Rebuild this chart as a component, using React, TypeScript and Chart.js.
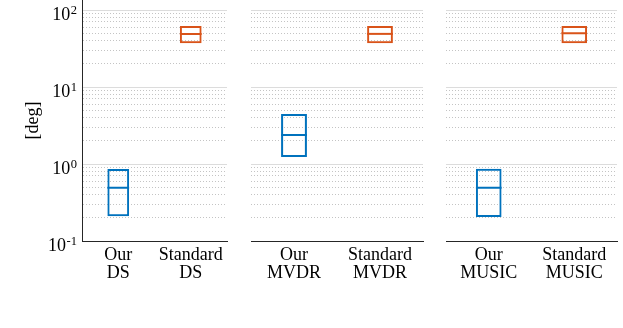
import React, { useEffect, useRef } from 'react';
import { Chart, registerables } from 'chart.js';

Chart.register(...registerables);

// ---- data (box plots: [lower quartile, median, upper quartile]) ----
const dsCategories = [['Our', 'DS'], ['Standard', 'DS']];
const mvdrCategories = [['Our', 'MVDR'], ['Standard', 'MVDR']];
const musicCategories = [['Our', 'MUSIC'], ['Standard', 'MUSIC']];

const ourDS = [0.21, 0.49, 0.86];
const standardDS = [37, 49, 62];
const ourMVDR = [1.23, 2.38, 4.46];
const standardMVDR = [37, 49, 62];
const ourMUSIC = [0.205, 0.49, 0.87];
const standardMUSIC = [37, 50, 62];

const yMin = 0.1;
const yMax = 135;
const yDecades = [-1, 0, 1, 2];
const yMinorMultipliers = [1, 2, 3, 4, 5, 6, 7, 8, 9];
const yTitle = '[deg]';

const BLUE = '#0072BD';
const ORANGE = '#D95319';
const FONT = '"Liberation Serif", "Times New Roman", serif';

const isMajor = (v: number) => {
  const l = Math.log10(v);
  return Math.abs(l - Math.round(l)) < 1e-6;
};

const tickValues = (): number[] => {
  const out: number[] = [];
  for (const d of yDecades) {
    for (const m of yMinorMultipliers) {
      const v = parseFloat((m * Math.pow(10, d)).toPrecision(6));
      if (v >= yMin - 1e-9 && v <= yMax) out.push(v);
    }
  }
  return out;
};

// Draws the y tick labels of the log axis as "10" with a raised exponent,
// placed at the library's own tick pixels.
const powerLabels = {
  id: 'powerLabels',
  afterDraw(chart: any) {
    const s = chart.scales.y;
    if (!s) return;
    const ctx = chart.ctx;
    const xRight = s.right - 5;
    ctx.save();
    ctx.fillStyle = '#000';
    ctx.textBaseline = 'alphabetic';
    ctx.textAlign = 'left';
    for (const t of s.ticks) {
      if (!isMajor(t.value)) continue;
      const y = s.getPixelForValue(t.value);
      const exp = String(Math.round(Math.log10(t.value)));
      ctx.font = `12.5px ${FONT}`;
      const ew = ctx.measureText(exp).width;
      ctx.font = `18px ${FONT}`;
      const bw = ctx.measureText('10').width;
      const x0 = xRight - ew - bw - 0.5;
      ctx.fillText('10', x0, y + 9.5);
      ctx.font = `12.5px ${FONT}`;
      ctx.fillText(exp, x0 + bw + 0.5, y + 3.5);
    }
    ctx.restore();
  },
};

type PanelProps = {
  left: number;
  width: number;
  yWidth: number;
  rightPad: number;
  categories: string[][];
  ours: number[];
  standard: number[];
  showY: boolean;
};

const BOX_FRACTION = 0.3;

function Panel({ left, width, yWidth, rightPad, categories, ours, standard, showY }: PanelProps) {
  const ref = useRef<HTMLCanvasElement | null>(null);
  useEffect(() => {
    const canvas = ref.current;
    if (!canvas) return;
    const boxes = [ours, standard];
    const halfBox = (ctx: any) => {
      const x = ctx.chart.scales.x;
      if (!x) return 10;
      const cw = Math.abs(x.getPixelForValue(1) - x.getPixelForValue(0));
      return (cw * BOX_FRACTION) / 2;
    };
    const chart = new Chart(canvas, {
      type: 'bar',
      data: {
        labels: categories as any,
        datasets: [
          {
            type: 'bar',
            data: boxes.map((b) => [b[0], b[2]]) as any,
            backgroundColor: 'rgba(0,0,0,0)',
            borderColor: [BLUE, ORANGE],
            borderWidth: 2,
            borderSkipped: false,
            barPercentage: BOX_FRACTION,
            categoryPercentage: 1,
          } as any,
          {
            type: 'line',
            data: boxes.map((b) => b[1]),
            showLine: false,
            pointStyle: 'line',
            pointRadius: halfBox,
            pointHoverRadius: halfBox,
            pointBorderColor: [BLUE, ORANGE],
            pointBackgroundColor: [BLUE, ORANGE],
            pointBorderWidth: 2,
          } as any,
        ],
      },
      plugins: showY ? [powerLabels as any] : [],
      options: {
        animation: false,
        responsive: false,
        events: [],
        layout: { padding: { left: 0, right: rightPad, top: 0, bottom: 0 } },
        plugins: { legend: { display: false }, tooltip: { enabled: false } },
        scales: {
          x: {
            type: 'category',
            offset: true,
            grid: { display: false, drawTicks: false },
            border: { display: true, color: '#262626', width: 1 },
            ticks: {
              color: '#000',
              font: { family: FONT, size: 18, lineHeight: 1 },
              maxRotation: 0,
              minRotation: 0,
              autoSkip: false,
              padding: 5,
            },
            afterFit: (s: any) => {
              s.height = 87;
              s.paddingLeft = 0;
              s.paddingRight = 0;
            },
          },
          y: {
            type: 'logarithmic',
            min: yMin,
            max: yMax,
            afterBuildTicks: (s: any) => {
              s.ticks = tickValues().map((v) => ({ value: v, major: isMajor(v) }));
            },
            ticks: {
              display: false,
              autoSkip: false,
            },
            grid: {
              drawTicks: false,
              lineWidth: 1,
              color: (ctx: any) => (ctx.tick && isMajor(ctx.tick.value) ? '#dcdcdc' : '#c4c4c4'),
            },
            border: {
              display: showY,
              color: '#262626',
              width: 1,
              dash: (ctx: any) => (ctx.tick && !isMajor(ctx.tick.value) ? [1, 2] : []),
            },
            title: {
              display: showY,
              text: yTitle,
              color: '#000',
              font: { family: FONT, size: 18 },
              padding: { top: 22, bottom: 0 },
            },
            afterFit: (s: any) => {
              s.width = yWidth;
              s.paddingTop = 0;
              s.paddingBottom = 0;
            },
          },
        },
      } as any,
    });
    return () => chart.destroy();
  }, []);
  return (
    <canvas
      ref={ref}
      width={width}
      height={328}
      style={{ position: 'absolute', left, top: 0, width, height: 328, display: 'block' }}
    />
  );
}

export default function App() {
  return (
    <div
      style={{
        position: 'fixed',
        left: 0,
        top: 0,
        width: 623,
        height: 328,
        background: '#fff',
        overflow: 'hidden',
      }}
    >
      <Panel left={0} width={240} yWidth={82} rightPad={13} categories={dsCategories} ours={ourDS} standard={standardDS} showY={true} />
      <Panel left={240} width={190} yWidth={11} rightPad={7} categories={mvdrCategories} ours={ourMVDR} standard={standardMVDR} showY={false} />
      <Panel left={430} width={193} yWidth={16} rightPad={6} categories={musicCategories} ours={ourMUSIC} standard={standardMUSIC} showY={false} />
    </div>
  );
}
